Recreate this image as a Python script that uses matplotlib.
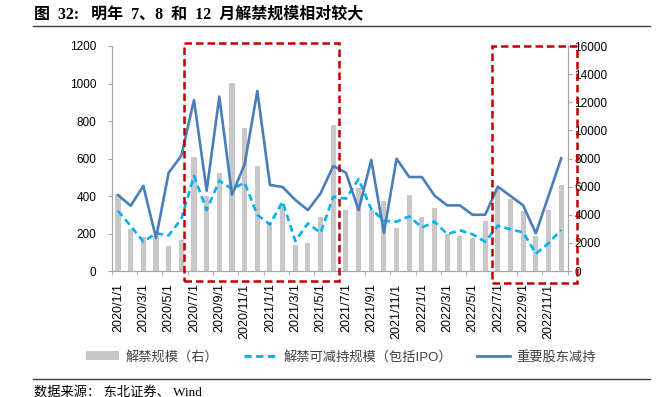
import matplotlib
matplotlib.use("Agg")
import matplotlib.pyplot as plt
from matplotlib.patches import Rectangle, Patch
from matplotlib.lines import Line2D
import numpy as np

plt.rcParams['font.family'] = ['Liberation Sans', 'Noto Sans CJK SC']

# 月份 2020/1 - 2022/12
months = [f"{y}/{m}/1" for y in (2020, 2021, 2022) for m in range(1, 13)]

# 解禁规模（右轴，亿元）
unlock_total = [5500, 3000, 2450, 2500, 1750, 2200, 8100, 5300, 7000, 13350, 10150, 7500,
                3450, 4800, 1870, 2000, 3850, 10400, 4350, 5880, 4350, 4950, 3050, 5420,
                3830, 4500, 2640, 2500, 2350, 3560, 5900, 5100, 4280, 2500, 4340, 6120]

# 解禁可减持规模（包括IPO）
unlock_sellable = [321, 240, 156, 201, 190, 278, 507, 325, 482, 437, 471, 299,
                   249, 370, 160, 254, 204, 396, 386, 490, 330, 268, 263, 291,
                   232, 263, 197, 217, 196, 156, 242, 222, 206, 92, 148, 219]

# 重要股东减持
holder_reduce = [405, 348, 454, 176, 524, 615, 912, 428, 930, 407, 569, 960,
                 459, 448, 379, 325, 414, 560, 524, 325, 592, 204, 599, 501,
                 501, 402, 350, 350, 300, 300, 450, 400, 350, 201, 400, 601]

x = np.arange(len(months))
grey = '#C8C8C8'
blue = '#4A7EBB'
cyan = '#00B0F0'
axis_grey = '#A6A6A6'

fig = plt.figure(figsize=(6.59, 3.97), dpi=100)
ax = fig.add_axes([111.7 / 659, 1 - 271 / 397, (567.5 - 111.7) / 659, (271 - 46) / 397])
ax2 = ax.twinx()

ax2.bar(x, unlock_total, width=0.4, color=grey, zorder=1)
ax.plot(x, unlock_sellable, color=cyan, lw=1.9, dashes=(2.6, 1.6), zorder=3)
ax.plot(x, holder_reduce, color=blue, lw=1.9, zorder=4)

ax.set_zorder(ax2.get_zorder() + 1)
ax.patch.set_visible(False)

ax.set_xlim(-0.5, len(months) - 0.5)
ax.set_ylim(0, 1200)
ax.set_yticks(range(0, 1201, 200))
ax2.set_ylim(0, 16000)
ax2.set_yticks(range(0, 16001, 2000))

ax.set_xticks(x[::2])
ax.set_xticklabels(months[::2], rotation=90, fontsize=9)
ax.set_xticks(np.arange(-0.5, len(months), 2), minor=True)
ax.tick_params(axis='x', which='major', length=0, pad=9)
ax.tick_params(axis='x', which='minor', length=3, color=axis_grey)
ax.tick_params(axis='y', length=3, color=axis_grey, labelsize=8.5, pad=8)
ax2.tick_params(axis='y', length=3, color=axis_grey, labelsize=8.5, pad=2)

for a in (ax, ax2):
    a.spines['top'].set_visible(False)
    for s in ('left', 'right', 'bottom'):
        a.spines[s].set_color(axis_grey)
        a.spines[s].set_linewidth(0.8)

# 红色虚线框
def red_box(x0, y0, x1, y1):
    fig.add_artist(Rectangle((x0 / 659, 1 - y1 / 397), (x1 - x0) / 659, (y1 - y0) / 397,
                             transform=fig.transFigure, fill=False, edgecolor='#C00000',
                             lw=1.8, linestyle=(0, (3, 1.6)), zorder=10))

red_box(184, 43, 339, 281)
red_box(492, 46, 577, 283)

handles = [Patch(facecolor=grey, edgecolor='none'),
           Line2D([], [], color=cyan, lw=2, dashes=(2.6, 1.6)),
           Line2D([], [], color=blue, lw=2)]
labels = ['解禁规模（右）', '解禁可减持规模（包括IPO）', '重要股东减持']
fig.legend(handles, labels, loc='center', bbox_to_anchor=(341 / 659, 1 - 357 / 397),
           ncol=3, frameon=False, fontsize=9.5, handlelength=2.5, handletextpad=0.5,
           columnspacing=1.9, labelcolor='#404040')

# 标题与来源
fig.text(34 / 659, 1 - 14 / 397, '图  32:   明年  7、8  和  12  月解禁规模相对较大',
         fontsize=11.5, fontweight='bold', va='center', ha='left',
         family=['Liberation Serif', 'Noto Sans CJK SC'])
fig.add_artist(Line2D([33 / 659, 650 / 659], [1 - 25.5 / 397] * 2, color='#404040', lw=1,
                      transform=fig.transFigure))
fig.add_artist(Line2D([33 / 659, 650 / 659], [1 - 379 / 397] * 2, color='#404040', lw=1,
                      transform=fig.transFigure))
fig.text(34 / 659, 1 - 392 / 397, '数据来源： 东北证券、 Wind', fontsize=9.5, va='center',
         ha='left', family=['Liberation Serif', 'Noto Sans CJK SC'])

fig.savefig('out.png', dpi=100)
